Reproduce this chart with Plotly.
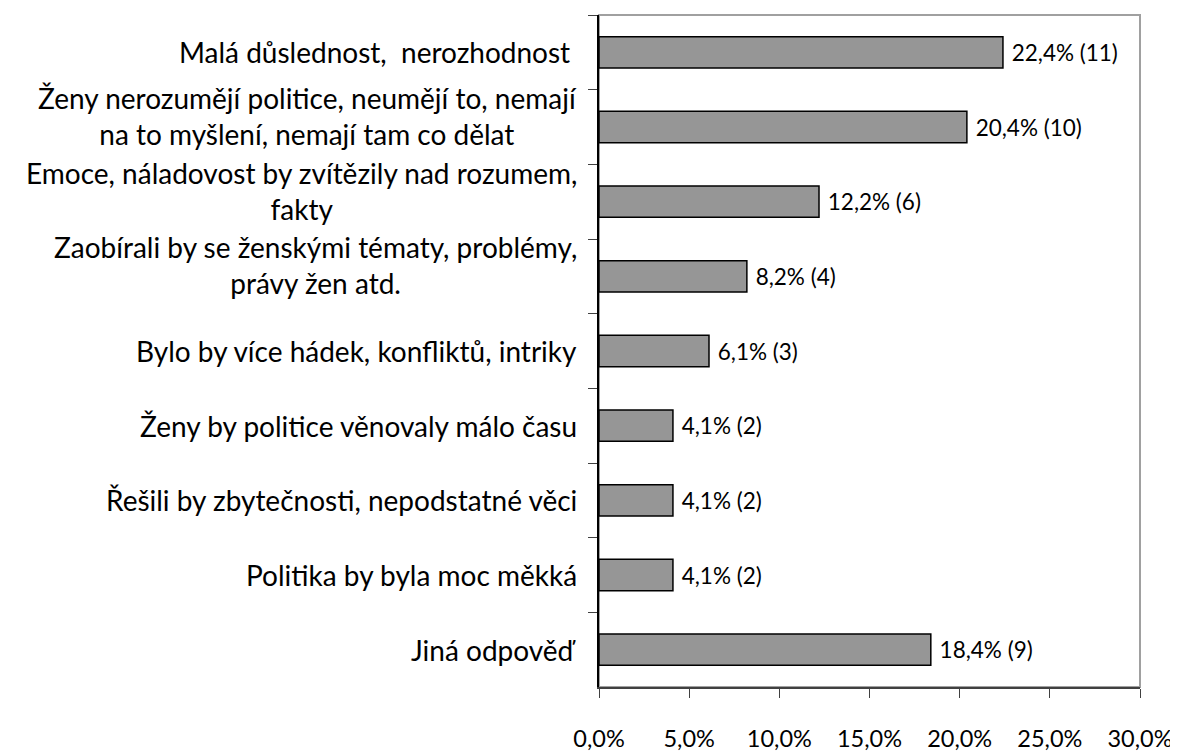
import plotly.graph_objects as go

# survey answers (top to bottom), share in % and counts
categories = [
    "Malá důslednost,\u00a0 nerozhodnost\u00a0",
    "Ženy nerozumějí politice, neumějí to, nemají<br>na to myšlení, nemají tam co dělat",
    "Emoce, náladovost by zvítězily nad rozumem,<br>fakty",
    "Zaobírali by se ženskými tématy, problémy,<br>právy žen atd.",
    "Bylo by více hádek, konfliktů, intriky",
    "Ženy by politice věnovaly málo času",
    "Řešili by zbytečnosti, nepodstatné věci",
    "Politika by byla moc měkká",
    "Jiná odpověď",
]
shares = [22.4, 20.4, 12.2, 8.2, 6.1, 4.1, 4.1, 4.1, 18.4]
counts = [11, 10, 6, 4, 3, 2, 2, 2, 9]
x_ticks = [0, 5, 10, 15, 20, 25, 30]
x_ticktext = ["0,0%", "5,0%", "10,0%", "15,0%", "20,0%", "25,0%", "30,0%"]

FONT = "Lato"

labels = ["\u00a0" + f"{s:.1f}".replace(".", ",") + f"% ({c})" for s, c in zip(shares, counts)]

fig = go.Figure()
fig.add_trace(go.Bar(
    x=shares,
    y=categories,
    orientation="h",
    width=0.42,
    marker=dict(color="#969696", line=dict(color="black", width=1.5)),
    text=labels,
    textposition="outside",
    textfont=dict(size=22.5, color="black", family=FONT),
    cliponaxis=False,
    showlegend=False,
))

# category labels as annotations so multi-line text is centred like the original
for cat in categories:
    multi = "<br>" in cat
    fig.add_annotation(
        x=0, xref="paper", y=cat, yref="y",
        text=cat, showarrow=False,
        xanchor="right", align="center",
        xshift=-20, yshift=11 if multi else 0,
        font=dict(size=28, color="black", family=FONT),
    )

# light grey frame on top and right
fig.add_shape(type="rect", xref="paper", yref="paper", x0=0, x1=1, y0=0, y1=1,
              line=dict(color="#a0a0a0", width=2), layer="below")

fig.update_layout(
    width=1178, height=751,
    margin=dict(l=591, r=46, t=7, b=60),
    plot_bgcolor="white", paper_bgcolor="white",
    font=dict(family=FONT, color="black"),
    bargap=0.58,
)
fig.update_xaxes(
    range=[0, 30], tickvals=x_ticks, ticktext=x_ticktext,
    showgrid=False, zeroline=False,
    showline=True, linecolor="#404040", linewidth=1.5,
    ticks="outside", ticklen=9, tickcolor="#404040",
    ticklabelstandoff=21,
    tickfont=dict(size=23.5, family=FONT),
)
fig.update_yaxes(
    categoryorder="array", categoryarray=categories, autorange="reversed",
    showticklabels=False, showgrid=False, zeroline=False,
    showline=True, linecolor="black", linewidth=1.5,
    ticks="outside", ticklen=9, tickcolor="#404040", tickson="boundaries",
)

fig.write_html("out.html")
